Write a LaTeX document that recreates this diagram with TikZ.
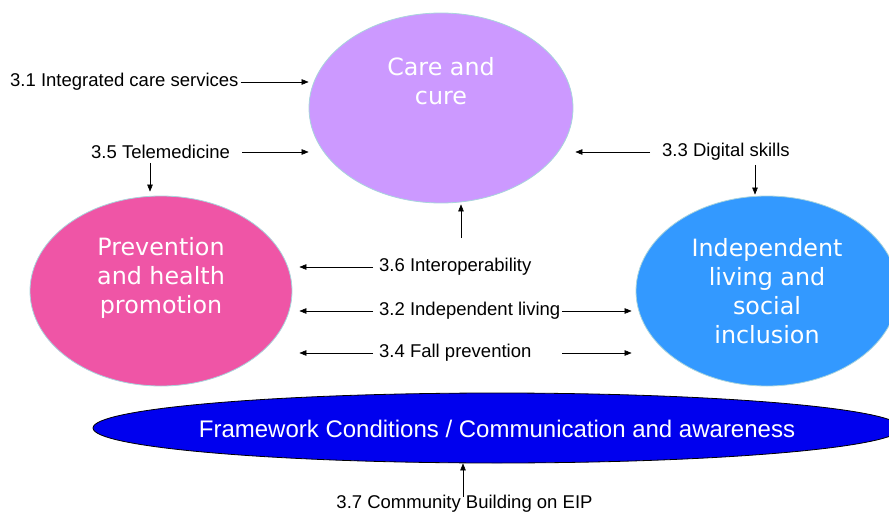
\documentclass[tikz,border=0pt]{standalone}
\usepackage{fontspec}
\setmainfont{Liberation Sans}
\newfontfamily\verd{DejaVu Sans}
\usetikzlibrary{shapes.geometric,arrows.meta}
\definecolor{carec}{HTML}{CC99FF}
\definecolor{prevc}{HTML}{EF55A6}
\definecolor{indc}{HTML}{3399FF}
\definecolor{fwc}{HTML}{0000EE}
\definecolor{rimc}{HTML}{A8D4DC}
\tikzset{
  ell/.style={ellipse, draw=rimc, line width=0.8pt, inner sep=0pt},
  eltext/.style={text=white, font=\verd\fontsize{23.8}{29}\selectfont, align=center, inner sep=0pt},
  lbl/.style={font=\fontsize{18.5}{21}\selectfont, inner sep=0pt, anchor=west},
  arr/.style={-{Triangle[length=7pt,width=5.5pt]}, line width=0.6pt},
}
\begin{document}
\begin{tikzpicture}[x=1pt,y=-1pt]
\useasboundingbox (0,0) rectangle (889,516);
% ellipses
\node[ell, fill=carec, minimum width=264, minimum height=190] (care) at (441,108) {};
\node[ell, fill=prevc, minimum width=262, minimum height=190] (prev) at (161,291) {};
\node[ell, fill=indc, minimum width=262, minimum height=190] (ind) at (767,291) {};
\node[ellipse, draw=black, line width=0.8pt, fill=fwc, minimum width=808, minimum height=70, inner sep=0pt] (fw) at (497,428) {};
% ellipse texts
\node[eltext] (caret) at (441,81) {Care and\\cure};
\node[eltext] (prevt) at (161,278) {Prevention\\and health\\promotion};
\node[eltext] (indt) at (767,291) {Independent\\living and\\social\\inclusion};
\node[text=white, font=\fontsize{24}{28}\selectfont, inner sep=0pt] (fwt) at (497,429) {Framework Conditions / Communication and awareness};
% labels
\node[lbl] (t31) at (10,82) {3.1 Integrated care services};
\node[lbl] (t35) at (91,152) {3.5 Telemedicine};
\node[lbl] (t33) at (662,152) {3.3 Digital skills};
\node[lbl] (t36) at (379,267) {3.6 Interoperability};
\node[lbl] (t32) at (379,311) {3.2 Independent living};
\node[lbl] (t34) at (379,353) {3.4 Fall prevention};
\node[font=\fontsize{18.5}{21}\selectfont, inner sep=0pt] (t37) at (464.5,504) {3.7 Community Building on EIP};
% free ends
\coordinate (c35) at (150,163);
\coordinate (c33) at (755,165);
\coordinate (c36) at (461,238);
\coordinate (c37) at (463,497);
% connectors
\draw[arr, shorten <=2pt] (t31.east) -- (care.west |- t31.east);
\draw[arr, shorten <=12pt] (t35.east) -- (care.west |- t35.east);
\draw[arr, shorten <=12pt, shorten >=2pt] (t33.west) -- (care.east |- t33.west);
\draw[arr, shorten >=4pt] (c35) -- (prev.north -| c35);
\draw[arr, shorten >=1pt] (c33) -- (ind.north -| c33);
\draw[arr, shorten >=1pt] (c36) -- (care.south -| c36);
\draw[arr, shorten <=6pt, shorten >=7pt] (t36.west) -- (prev.east |- t36.west);
\draw[arr, shorten <=6pt, shorten >=7pt] (t32.west) -- (prev.east |- t32.west);
\draw[arr, shorten <=6pt, shorten >=7pt] (t34.west) -- (prev.east |- t34.west);
\draw[arr, shorten <=2pt, shorten >=4pt] (t32.east) -- (ind.west |- t32.east);
\draw[arr, shorten <=2pt, shorten >=4pt] (t32.east |- t34.east) -- (ind.west |- t34.east);
\draw[arr] (c37) -- (fw.south -| c37);
\end{tikzpicture}
\end{document}
